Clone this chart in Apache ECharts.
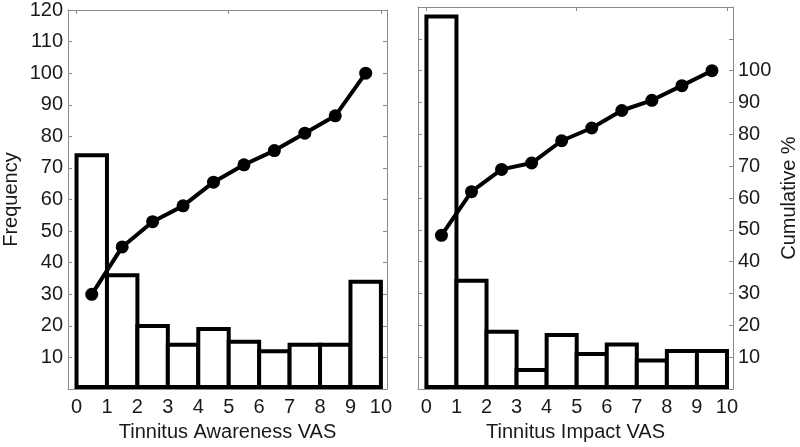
<!DOCTYPE html>
<html>
<head>
<meta charset="utf-8">
<script src="https://cdn.jsdelivr.net/npm/echarts@6/dist/echarts.min.js"></script>
<style>
html,body{margin:0;padding:0;background:#fff;}
#chart{width:800px;height:447px;}
</style>
</head>
<body>
<div id="chart"></div>
<script>
// ---- data ----
const binCenters = [0.5, 1.5, 2.5, 3.5, 4.5, 5.5, 6.5, 7.5, 8.5, 9.5];
const awarenessFreq = [74, 36, 20, 14, 19, 15, 12, 14, 14, 34];
const awarenessCum = [30, 45, 53, 58, 65.5, 71, 75.5, 81, 86.5, 100];
const impactFreq = [117, 34, 18, 6, 17, 11, 14, 9, 12, 12];
const impactCum = [48.3, 62, 69, 71, 78, 82, 87.5, 90.7, 95.3, 100];
const xTickLabels = [0, 1, 2, 3, 4, 5, 6, 7, 8, 9, 10];
const xTopTicks = [0, 5, 10];
const leftTitleX = 'Tinnitus Awareness VAS';
const rightTitleX = 'Tinnitus Impact VAS';
const leftTitleY = 'Frequency';
const rightTitleY = 'Cumulative %';

// ---- chart ----
const font = 'Liberation Sans, Arial, sans-serif';
const fs = 20;
const textColor = '#1a1a1a';
const frameColor = '#8a8a8a';
const chart = echarts.init(document.getElementById('chart'), null, {renderer: 'canvas'});

function pairs(xs, ys) { return xs.map((x, i) => [x, ys[i]]); }

function renderBar(params, api) {
  const x = api.value(0), v = api.value(1);
  const p0 = api.coord([x - 0.5, 0]);
  const p1 = api.coord([x + 0.5, v]);
  return {
    type: 'rect',
    shape: {x: p0[0], y: p1[1], width: p1[0] - p0[0], height: p0[1] - p1[1] - 2},
    style: {fill: '#fff', stroke: '#000', lineWidth: 4, lineJoin: 'miter'}
  };
}

function xAxes(gridIndex, title) {
  const common = {
    type: 'value', gridIndex: gridIndex, min: -0.28, max: 10.2,
    splitLine: {show: false},
    axisLine: {show: true, onZero: false, lineStyle: {color: frameColor, width: 1}}
  };
  return [
    Object.assign({}, common, {
      position: 'bottom',
      name: title, nameLocation: 'middle', nameGap: 31,
      nameTextStyle: {fontFamily: font, fontSize: fs, color: textColor},
      axisTick: {show: true, inside: true, length: 4, customValues: xTickLabels, lineStyle: {color: frameColor}},
      axisLabel: {show: true, customValues: xTickLabels, margin: 8, fontFamily: font, fontSize: fs, color: textColor}
    }),
    Object.assign({}, common, {
      position: 'top',
      axisTick: {show: true, inside: true, length: 4, customValues: xTopTicks, lineStyle: {color: frameColor}},
      axisLabel: {show: false}
    })
  ];
}

function yAxis(gridIndex, position, labelMax, name, nameGap) {
  const a = {
    type: 'value', gridIndex: gridIndex, position: position,
    min: 0, max: 120, interval: 10,
    splitLine: {show: false},
    axisLine: {show: true, onZero: false, lineStyle: {color: frameColor, width: 1}},
    axisTick: {show: true, inside: true, length: 4, lineStyle: {color: frameColor}},
    axisLabel: {
      show: labelMax > 0, margin: 5, fontFamily: font, fontSize: fs, color: textColor,
      formatter: v => (v >= 10 && v <= labelMax) ? String(v) : ''
    }
  };
  if (name) {
    a.name = name;
    a.nameLocation = 'middle';
    a.nameGap = nameGap;
    a.nameRotate = 90;
    a.nameTextStyle = {fontFamily: font, fontSize: fs, color: textColor};
  }
  return a;
}

const option = {
  backgroundColor: '#fff',
  animation: false,
  grid: [
    {left: 67, top: 7, width: 320, height: 387},
    {left: 418, top: 7, width: 321, height: 387}
  ],
  xAxis: [].concat(xAxes(0, leftTitleX), xAxes(1, rightTitleX)),
  yAxis: [
    yAxis(0, 'left', 120, leftTitleY, 47),
    yAxis(0, 'right', 0, null, 0),
    yAxis(1, 'left', 0, null, 0),
    yAxis(1, 'right', 100, rightTitleY, 46)
  ],
  series: [
    {type: 'custom', xAxisIndex: 0, yAxisIndex: 0, renderItem: renderBar,
     data: pairs(binCenters, awarenessFreq), z: 2},
    {type: 'line', xAxisIndex: 0, yAxisIndex: 1, data: pairs(binCenters, awarenessCum),
     symbol: 'circle', symbolSize: 13, lineStyle: {color: '#000', width: 4},
     itemStyle: {color: '#000'}, z: 3},
    {type: 'custom', xAxisIndex: 2, yAxisIndex: 2, renderItem: renderBar,
     data: pairs(binCenters, impactFreq), z: 2},
    {type: 'line', xAxisIndex: 2, yAxisIndex: 3, data: pairs(binCenters, impactCum),
     symbol: 'circle', symbolSize: 13, lineStyle: {color: '#000', width: 4},
     itemStyle: {color: '#000'}, z: 3}
  ]
};
chart.setOption(option);
</script>
</body>
</html>
